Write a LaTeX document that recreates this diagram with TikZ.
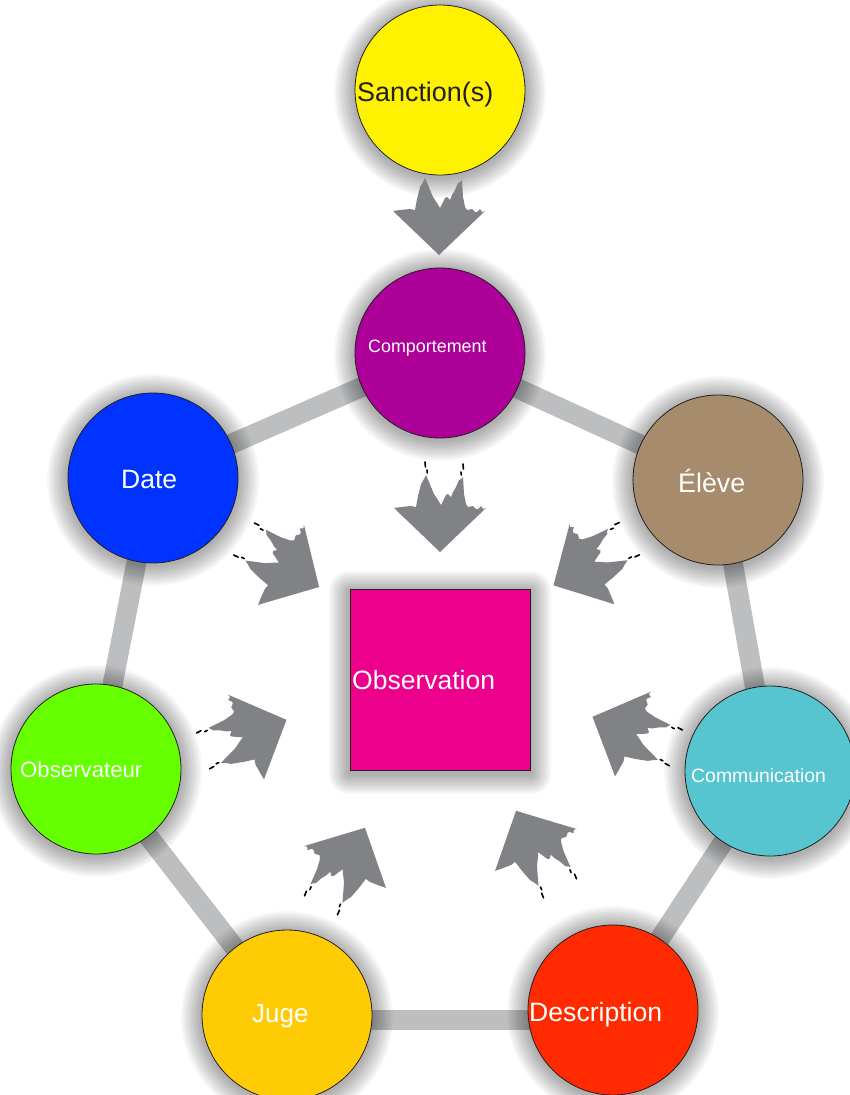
\documentclass[tikz,border=0pt]{standalone}
\usepackage{fontspec}
\setmainfont{Liberation Sans}
\definecolor{csanc}{HTML}{FFF200}
\definecolor{ccomp}{HTML}{AC0099}
\definecolor{cdate}{HTML}{0033FF}
\definecolor{celeve}{HTML}{A68B6C}
\definecolor{cobsr}{HTML}{66FF00}
\definecolor{ccomm}{HTML}{56C5D0}
\definecolor{cjuge}{HTML}{FFCB05}
\definecolor{cdesc}{HTML}{FF2A00}
\definecolor{cobs}{HTML}{EC008C}
\definecolor{arrgray}{HTML}{808285}
\definecolor{linkgray}{HTML}{BCBEC0}
\definecolor{darktxt}{HTML}{231F20}
\pgfdeclarelayer{bg}
\pgfdeclarelayer{glowlayer}
\pgfsetlayers{bg,glowlayer,main}
\newcommand\glowat[1]{%
  \foreach \k [evaluate=\k as \rr using 85+1.9*\k] in {1,...,11}{%
    \fill[black,opacity=0.032] ([yshift=-2pt]#1.center) circle[radius=\rr pt];}}
\def\ragpath{(0,44) -- (-46,0) -- (-39,-1) -- (-29,-2) -- (-24,-1) -- (-22,-12) -- (-19,-24)
      -- (-16,-29) -- (-14,-33) -- (-11,-26) -- (-9,-21) -- (-6,-14) -- (-2,-8) -- (1,-3)
      -- (4,-9) -- (6,-13) -- (8,-14) -- (11,-11) -- (13,-16) -- (16,-21) -- (19,-28)
      -- (21,-29) -- (23,-31) -- (24,-14) -- (26,-4) -- (28,-1) -- (33,-2) -- (36,1)
      -- (38,1) -- (41,-2) -- (43,1) -- (46,0) -- cycle}
\tikzset{
  bub/.style={circle, draw=darktxt, line width=0.8pt, minimum size=170pt, inner sep=0pt},
  lbl/.style={anchor=base west, inner sep=0pt, text=white},
  link/.style={line width=20pt, draw=linkgray},
  ragbody/.style={fill=arrgray},
  marks/.style={draw=black, line width=1.6pt, line cap=round},
  ragarrow/.pic={
    \fill[ragbody] \ragpath;
  },
  ragarrowm/.pic={
    \fill[ragbody] \ragpath;
    \draw[marks] (-15,-46) -- (-14.6,-41);
    \draw[marks] (-13,-38) -- (-12.8,-35);
    \draw[marks] (23,-44) -- (23.4,-39);
    \draw[marks] (21,-36) -- (21.3,-33);
  }
}
\begin{document}
\begin{tikzpicture}[x=1pt,y=-1pt]
\useasboundingbox (0,0) rectangle (850,1095);
\begin{pgfonlayer}{bg}
\fill[white] (0,0) rectangle (850,1095);
\end{pgfonlayer}
% circles
\node[bub, fill=csanc]  (sanc) at (440,90)  {};
\node[bub, fill=ccomp]  (comp) at (440,353) {};
\node[bub, fill=cdate]  (date) at (153,478) {};
\node[bub, fill=celeve] (elev) at (718,480) {};
\node[bub, fill=cobsr]  (obsr) at (96,769)  {};
\node[bub, fill=ccomm]  (comm) at (770,771) {};
\node[bub, fill=cjuge]  (juge) at (287,1015) {};
\node[bub, fill=cdesc]  (desc) at (613,1010) {};
\node[draw=darktxt, line width=0.8pt, fill=cobs, minimum width=180pt, minimum height=181pt, inner sep=0pt] (obs) at (440,679.5) {};
% labels
\node[lbl, text=darktxt, font=\fontsize{26.9}{30}\selectfont] (t1) at (357,101) {Sanction(s)};
\node[lbl, font=\fontsize{17.9}{21}\selectfont] (t2) at (368,352) {Comportement};
\node[lbl, font=\fontsize{26.5}{30}\selectfont] (t3) at (121,488) {Date};
\node[lbl, font=\fontsize{26.8}{30}\selectfont] (t4) at (678,492) {Élève};
\node[lbl, font=\fontsize{22.2}{25}\selectfont] (t5) at (20,777) {Observateur};
\node[lbl, font=\fontsize{19.4}{22}\selectfont] (t6) at (691,782) {Communication};
\node[lbl, font=\fontsize{26}{30}\selectfont] (t7) at (252,1022) {Juge};
\node[lbl, font=\fontsize{26.6}{30}\selectfont] (t8) at (529,1021) {Description};
\node[lbl, font=\fontsize{26.5}{30}\selectfont] (t9) at (352,689) {Observation};
% glows
\begin{pgfonlayer}{glowlayer}
\glowat{sanc}\glowat{comp}\glowat{date}\glowat{elev}
\glowat{obsr}\glowat{comm}\glowat{juge}\glowat{desc}
\foreach \k [evaluate=\k as \rr using 1.9*\k] in {1,...,11}{%
  \fill[black,opacity=0.032,rounded corners=\rr pt]
    ([shift={(-\rr pt,\rr pt-3pt)}]obs.north west) rectangle ([shift={(\rr pt,-\rr pt-3pt)}]obs.south east);}
\end{pgfonlayer}
% connectors
\begin{pgfonlayer}{bg}
\draw[link] (comp.center) -- (date.center);
\draw[link] (comp.center) -- (elev.center);
\draw[link] (date.center) -- (obsr.center);
\draw[link] (elev.center) -- (comm.center);
\draw[link] (obsr.center) -- (juge.center);
\draw[link] (comm.center) -- (desc.center);
\draw[link] ([yshift=-5pt]juge.center) -- ([yshift=-10pt]desc.center);
\end{pgfonlayer}
% arrows
\pic at (439,211) {ragarrow};
\pic at (440,508) {ragarrowm};
\pic[rotate=60] at (281,565) {ragarrowm};
\pic[rotate=-61,xscale=-1] at (592,564) {ragarrowm};
\pic[rotate=113] at (246,737) {ragarrowm};
\pic[rotate=-113,xscale=-1] at (633,734) {ragarrowm};
\pic[rotate=153] at (345,867) {ragarrowm};
\pic[rotate=-153,xscale=-1] at (536,850) {ragarrowm};
\end{tikzpicture}
\end{document}
